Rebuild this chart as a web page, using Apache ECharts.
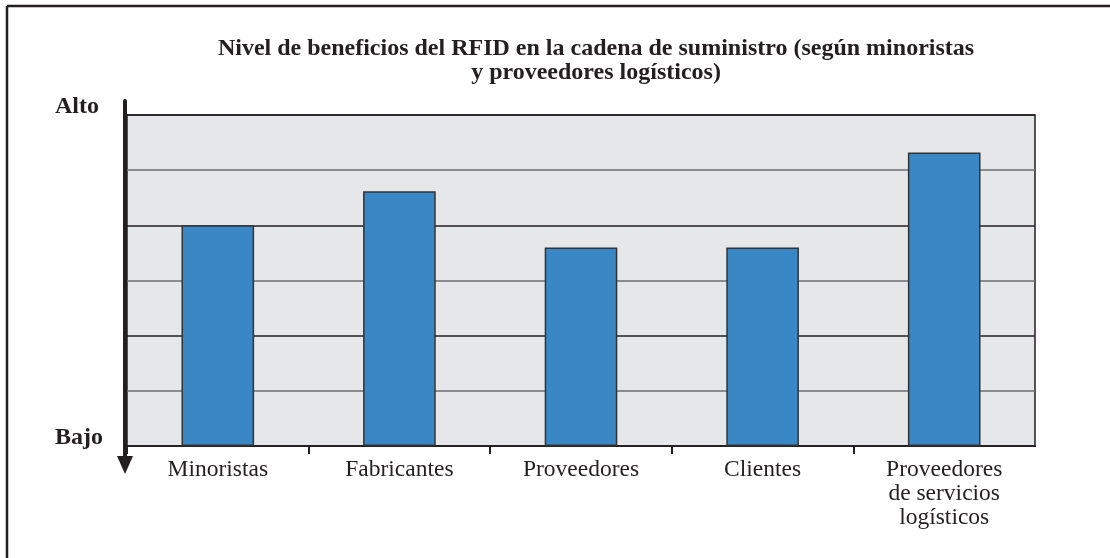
<!DOCTYPE html>
<html>
<head>
<meta charset="utf-8">
<script src="https://cdn.jsdelivr.net/npm/echarts@6/dist/echarts.min.js"></script>
<style>
	html, body { margin: 0; padding: 0; background: #fff; }
	#bar1 { width: 1110px; height: 558px; }
</style>
</head>
<body>
<div id="bar1"></div>
<script>
var categories = [ 'Minoristas', 'Fabricantes', 'Proveedores', 'Clientes', 'Proveedores\nde servicios\nlogísticos' ];
var levels = [ 4.0, 4.62, 3.6, 3.6, 5.32 ];
// value axis 0..6, only the ends are named
var levelLabels = [ 'Bajo', '', '', '', '', '', 'Alto' ];
var titleText = 'Nivel de beneficios del RFID en la cadena de suministro (según minoristas\ny proveedores logísticos)';

function drawChart() {
	var chart = echarts.init(document.getElementById('bar1'));
	var dark = '#231f20';

	var option = {
		animation : false,
		title : {
			text : titleText,
			left : 596,
			top : 37,
			padding : 0,
			textAlign : 'center',
			textStyle : {
				fontFamily : 'Liberation Serif',
				fontWeight : 'bold',
				fontSize : 24,
				lineHeight : 24,
				color : dark
			}
		},
		grid : [ {
			left : 127,
			top : 115,
			width : 908,
			height : 331,
			show : true,
			backgroundColor : '#e6e7e9',
			borderColor : dark,
			borderWidth : 1.5
		}, {
			left : 125,
			top : 101,
			width : 10,
			height : 364,
			show : false
		} ],
		xAxis : [ {
			type : 'category',
			gridIndex : 0,
			data : categories,
			axisLine : { lineStyle : { color : dark, width : 1.5 } },
			axisTick : { show : true, length : 8, lineStyle : { color : dark, width : 2 } },
			axisLabel : {
				margin : 12,
				fontFamily : 'Liberation Serif',
				fontSize : 23.5,
				lineHeight : 24,
				color : dark
			}
		}, {
			type : 'category',
			gridIndex : 1,
			show : false
		} ],
		yAxis : [ {
			type : 'value',
			gridIndex : 0,
			min : 0,
			max : 6,
			interval : 1,
			axisLine : { show : false },
			axisTick : { show : false },
			splitLine : { lineStyle : { color : [ dark, '#6d6e71' ], width : 1.5 } },
			axisLabel : {
				margin : 72,
				align : 'left',
				verticalAlign : 'bottom',
				lineHeight : 16,
				fontFamily : 'Liberation Serif',
				fontWeight : 'bold',
				fontSize : 24,
				color : dark,
				formatter : function (v) {
					return levelLabels[v] || '';
				}
			}
		}, {
			// thick arrow on the left, pointing down
			type : 'value',
			gridIndex : 1,
			min : 0,
			max : 1,
			axisLine : {
				show : true,
				symbol : [ 'triangle', 'none' ],
				symbolSize : [ 16, 18 ],
				lineStyle : { color : dark, width : 4 }
			},
			axisTick : { show : false },
			axisLabel : { show : false },
			splitLine : { show : false }
		} ],
		series : [ {
			name : 'Nivel',
			type : 'bar',
			xAxisIndex : 0,
			yAxisIndex : 0,
			barWidth : '40%',
			data : levels,
			itemStyle : {
				color : '#3a87c6',
				borderColor : '#333333',
				borderWidth : 1.5
			}
		} ],
		graphic : [ {
			type : 'rect',
			z : 100,
			shape : { x : 1031, y : 447, width : 10, height : 10 },
			style : { fill : '#ffffff' }
		}, {
			type : 'line',
			shape : { x1 : 7, y1 : 6, x2 : 1110, y2 : 6 },
			style : { stroke : dark, lineWidth : 2.5 }
		}, {
			type : 'line',
			shape : { x1 : 7, y1 : 6, x2 : 7, y2 : 558 },
			style : { stroke : dark, lineWidth : 2.5 }
		} ]
	};

	chart.setOption(option);
}

drawChart();
</script>
</body>
</html>
